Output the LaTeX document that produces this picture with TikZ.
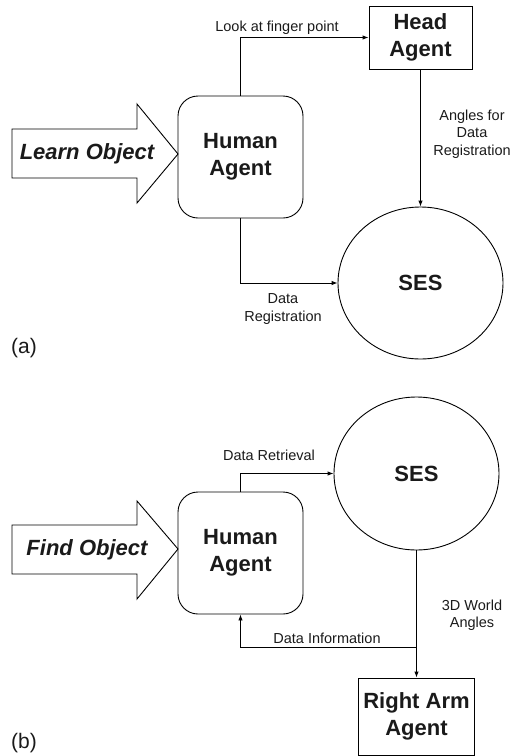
\documentclass[tikz,border=0pt]{standalone}
\usepackage{fontspec}
\setmainfont{Liberation Sans}
\usetikzlibrary{shapes.geometric,arrows.meta}
\definecolor{ink}{HTML}{1A1A1A}
\tikzset{
  big/.style={font=\fontsize{22}{27}\selectfont\bfseries, text=ink, align=center},
  small/.style={font=\fontsize{14.5}{17.5}\selectfont, text=ink, align=center},
  agentbox/.style={draw, line width=0.9pt, rounded corners=20pt, minimum width=125pt, minimum height=122pt, big},
  plainbox/.style={draw, line width=0.9pt, big, inner sep=0pt},
  store/.style={draw, line width=0.9pt, ellipse, inner sep=0pt, big},
  flow/.style={line width=0.9pt, -{Latex[length=6pt,width=4.5pt]}},
  bigarrow/.style={draw, line width=0.9pt, fill=white},
  tag/.style={font=\fontsize{21}{25}\selectfont, text=ink}
}
\begin{document}
\begin{tikzpicture}[x=1pt, y=-1pt]
\useasboundingbox (0,0) rectangle (512,756);

% ---------------- (a) learning ----------------
\draw[bigarrow] (12,129) -- (137,129) -- (137,104) -- (178,154) -- (137,203) -- (137,178) -- (12,178) -- cycle;
\node[big, font=\fontsize{22}{27}\selectfont\bfseries\itshape] (learn) at (87,154) {Learn Object};

\node[agentbox] (humanA) at (240.5,157) {Human\\Agent};
\node[plainbox, minimum width=103pt, minimum height=63pt] (headA) at (420.5,37.5) {Head\\Agent};
\node[store, minimum width=165pt, minimum height=152pt] (sesA) at (420.5,283) {SES};

\draw[flow] (humanA.north) |- (headA.west);
\draw[flow] (headA.south) -- (sesA.north);
\draw[flow] (humanA.south) |- (sesA.west);

\node[small] (lookL) at (277,28) {Look at finger point};
\node[small] (angL) at (472,134) {Angles for\\Data\\Registration};
\node[small] (regL) at (283,309) {Data\\Registration};
\node[tag] (tagA) at (24,348) {(a)};

% ---------------- (b) finding ----------------
\draw[bigarrow] (12,525) -- (137,525) -- (137,501) -- (178,549) -- (137,599) -- (137,574) -- (12,574) -- cycle;
\node[big, font=\fontsize{22}{27}\selectfont\bfseries\itshape] (find) at (87,550) {Find Object};

\node[agentbox] (humanB) at (240.5,553) {Human\\Agent};
\node[store, minimum width=165pt, minimum height=153pt] (sesB) at (416.5,473.5) {SES};
\node[plainbox, minimum width=116pt, minimum height=77pt] (armB) at (416.5,716.5) {Right Arm\\Agent};

\coordinate (split) at (416.5,647);
\draw[flow] (humanB.north) |- (sesB.west);
\draw[flow] (sesB.south) -- (armB.north);
\draw[flow] (split) -| (humanB.south);

\node[small] (retL) at (269,455) {Data Retrieval};
\node[small] (infoL) at (327,638) {Data Information};
\node[small] (worldL) at (472,615) {3D World\\Angles};
\node[tag] (tagB) at (24,743) {(b)};
\end{tikzpicture}
\end{document}
